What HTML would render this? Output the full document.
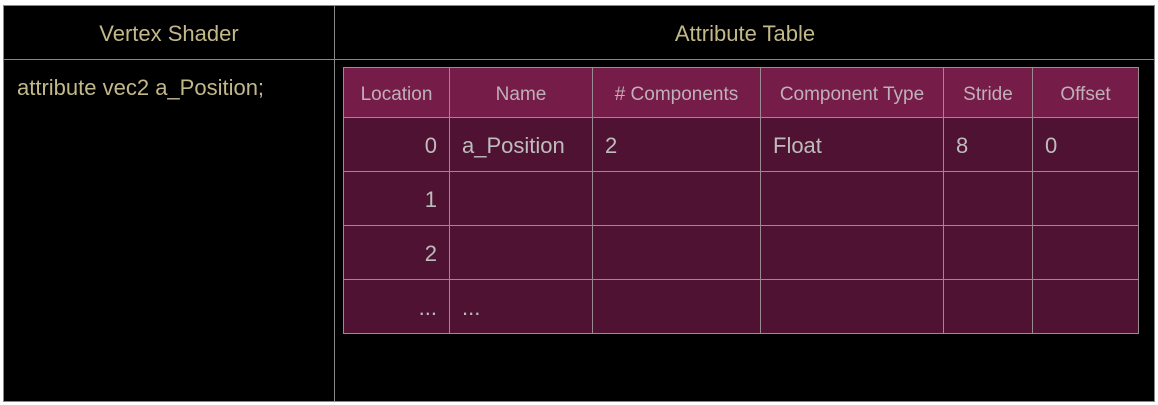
<!DOCTYPE html>
<html><head><style>
body{margin:0;width:1158px;height:405px;background:#fff;position:relative;overflow:hidden;font-family:"Liberation Sans",sans-serif}
.box{position:absolute;left:3px;top:5px;width:1150px;height:395px;background:#000;border:1px solid #888}
.t{position:absolute;color:#c2b88a;font-size:22px}
.line{position:absolute;background:#888}
table{position:absolute;left:343px;top:67px;border-collapse:collapse;width:796px}
td{border:1.5px solid #9a8a92;background:#4f1232;color:#bdbdbd;font-size:22px;padding:2px 12px 0;height:51px}
tr.h td{background:#761c48;height:45px;font-size:19px;text-align:center;color:#c0b0b8;padding:4px 0 0}
td.r{text-align:right}
</style></head><body>
<div class="box"></div>
<div class="line" style="left:334px;top:5px;width:1px;height:396px"></div>
<div class="line" style="left:4px;top:59px;width:1150px;height:1px"></div>
<div class="t" style="left:4px;width:330px;top:21px;text-align:center">Vertex Shader</div>
<div class="t" style="left:335px;width:820px;top:21px;text-align:center">Attribute Table</div>
<div class="t" style="left:17px;top:75px">attribute vec2 a_Position;</div>
<table>
<tr class="h"><td style="width:105px">Location</td><td style="width:142px">Name</td><td style="width:167px"># Components</td><td style="width:182px">Component Type</td><td style="width:88px">Stride</td><td>Offset</td></tr>
<tr><td class="r">0</td><td>a_Position</td><td>2</td><td>Float</td><td>8</td><td>0</td></tr>
<tr><td class="r">1</td><td></td><td></td><td></td><td></td><td></td></tr>
<tr><td class="r">2</td><td></td><td></td><td></td><td></td><td></td></tr>
<tr><td class="r">...</td><td>...</td><td></td><td></td><td></td><td></td></tr>
</table>
</body></html>
